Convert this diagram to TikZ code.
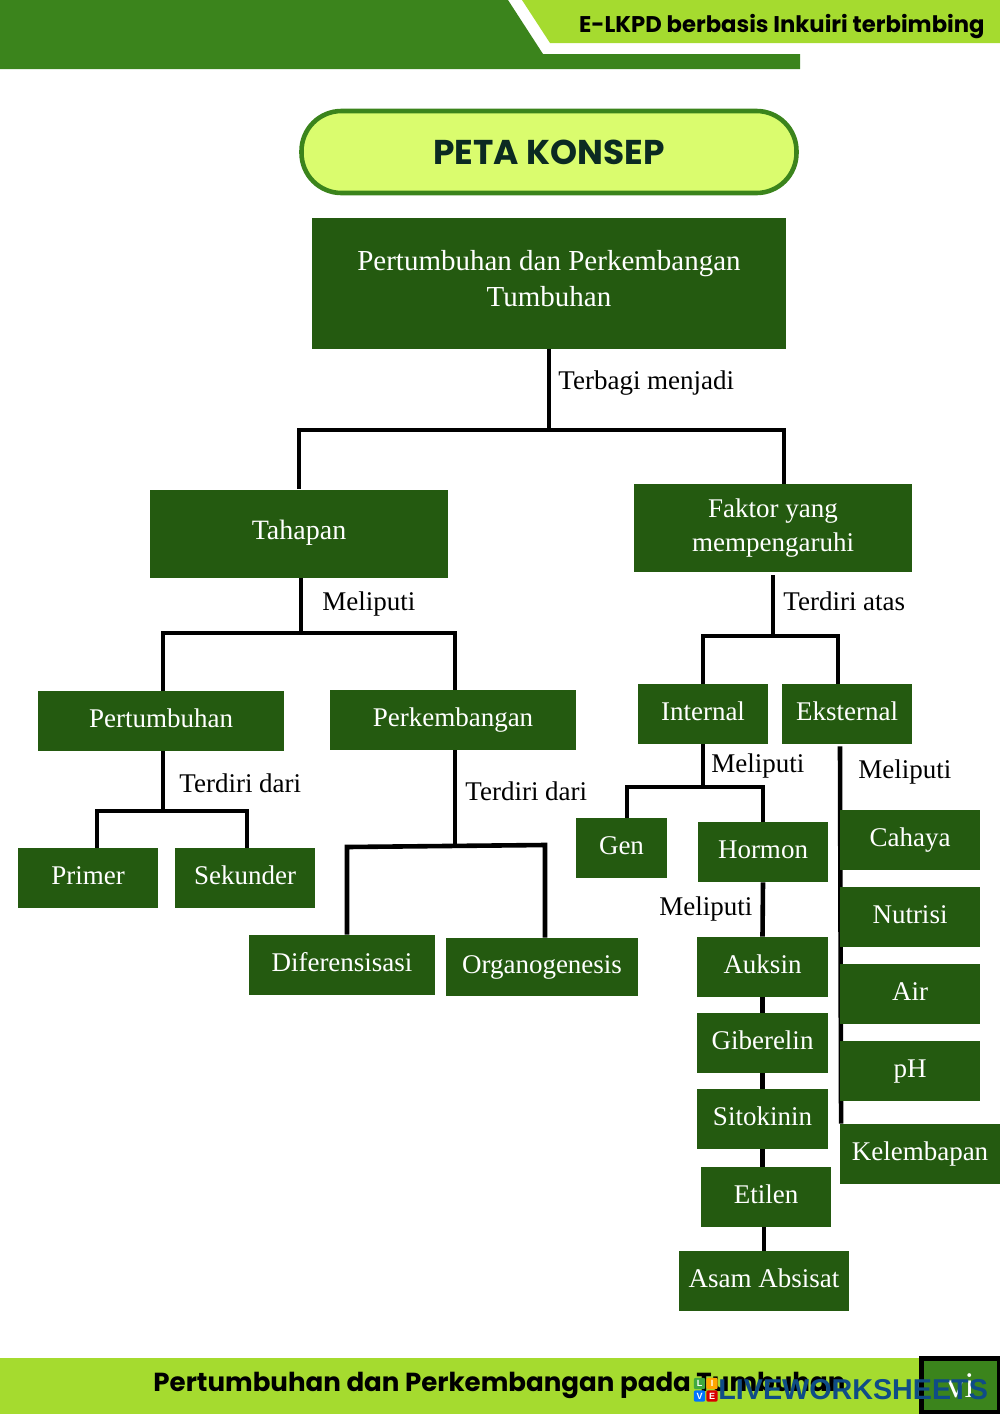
\documentclass[tikz,border=0pt]{standalone}
\usepackage{fontspec}
\setmainfont{Liberation Serif}
\newfontfamily\popfont{Poppins}
\newfontfamily\wmfont{Liberation Sans}
\definecolor{daun}{HTML}{245A10}
\definecolor{hijau}{HTML}{3B841C}
\definecolor{limau}{HTML}{A5DB2F}
\definecolor{pucuk}{HTML}{DAFC6E}
\definecolor{tinta}{HTML}{0B2A22}
\definecolor{biruwm}{HTML}{0F4C86}
\tikzset{
  kotak/.style={fill=daun, text=white, inner sep=0pt, align=center, font=\fontsize{13.5}{17.5}\selectfont},
  kotaksatu/.style={kotak, text height=9pt, text depth=3pt},
  ket/.style={anchor=base west, inner sep=0pt, font=\fontsize{13.5}{15}\selectfont},
  garis/.style={line width=2.3pt, black},
  logobox/.style={inner sep=0pt, minimum size=5.7pt, rounded corners=1pt, text=white, font=\wmfont\bfseries\fontsize{4.5}{5}\selectfont}
}
\begin{document}
\begin{tikzpicture}[x=0.5pt, y=-0.5pt]
  \useasboundingbox (0,0) rectangle (1000,1414);

  % Pita atas
  \fill[limau] (522,0) -- (1000,0) -- (1000,43) -- (550,43) -- cycle;
  \fill[hijau] (0,0) -- (508,0) -- (543,54) -- (800,54) -- (800,69) -- (0,69) -- cycle;
  \node[font=\popfont\bfseries\fontsize{11.35}{14}\selectfont, anchor=east, inner sep=0pt] (kepala) at (985,26.5) {E-LKPD berbasis Inkuiri terbimbing};

  % Judul
  \node[rectangle, rounded corners=20pt, draw=hijau, line width=2.3pt, fill=pucuk, minimum width=247.5pt, minimum height=41pt,
    font=\popfont\bfseries\fontsize{17.2}{20}\selectfont, text=tinta] (judul) at (549,152) {PETA KONSEP};

  % Kotak utama
  \node[kotak, minimum width=237pt, minimum height=65.5pt, font=\fontsize{14.5}{18}\selectfont] (utama) at (549,283)
    {Pertumbuhan dan Perkembangan\\Tumbuhan\rule[-5pt]{0pt}{5pt}};
  \node[kotaksatu, minimum width=149pt, minimum height=44pt, font=\fontsize{14}{17}\selectfont] (tahapan) at (299,533.5) {Tahapan};
  \node[kotak, minimum width=139pt, minimum height=44pt, font=\fontsize{13.5}{17}\selectfont] (faktor) at (773,528) {Faktor yang\\mempengaruhi};

  % Tahapan
  \node[kotaksatu, minimum width=123pt, minimum height=30pt] (tumbuh) at (161,721) {Pertumbuhan};
  \node[kotaksatu, minimum width=123pt, minimum height=30pt] (kembang) at (453,720) {Perkembangan};
  \node[kotaksatu, minimum width=70pt, minimum height=30pt] (primer) at (88,878) {Primer};
  \node[kotaksatu, minimum width=70pt, minimum height=30pt] (sekunder) at (245,878) {Sekunder};
  \node[kotaksatu, minimum width=93pt, minimum height=30pt] (diferensiasi) at (342,965) {Diferensisasi};
  \node[kotaksatu, minimum width=96pt, minimum height=29pt] (organo) at (542,967) {Organogenesis};

  % Faktor
  \node[kotaksatu, minimum width=65pt, minimum height=30pt] (internal) at (703,714) {Internal};
  \node[kotaksatu, minimum width=65pt, minimum height=30pt] (eksternal) at (847,714) {Eksternal};
  \node[kotaksatu, minimum width=45.5pt, minimum height=30pt] (gen) at (621.5,848) {Gen};
  \node[kotaksatu, minimum width=65pt, minimum height=30pt] (hormon) at (763,852) {Hormon};

  % Hormon
  \node[kotaksatu, minimum width=65.5pt, minimum height=30pt] (auksin) at (762.5,967) {Auksin};
  \node[kotaksatu, minimum width=65.5pt, minimum height=30pt] (giberelin) at (762.5,1043) {Giberelin};
  \node[kotaksatu, minimum width=65.5pt, minimum height=30pt] (sitokinin) at (762.5,1119) {Sitokinin};
  \node[kotaksatu, minimum width=65pt, minimum height=30pt] (etilen) at (766,1197) {Etilen};
  \node[kotaksatu, minimum width=85pt, minimum height=30pt] (asam) at (764,1281) {Asam Absisat};

  % Eksternal
  \node[kotaksatu, minimum width=80pt, minimum height=30pt] (lembap) at (920,1154) {Kelembapan};
  \draw[garis] ([xshift=-3.5pt,yshift=-1pt]eksternal.south) -- ([xshift=.75pt]lembap.north west);
  \node[kotaksatu, minimum width=70pt, minimum height=30pt] (cahaya) at (910,840) {Cahaya};
  \node[kotaksatu, minimum width=70pt, minimum height=30pt] (nutrisi) at (910,917) {Nutrisi};
  \node[kotaksatu, minimum width=70pt, minimum height=30pt] (air) at (910,994) {Air};
  \node[kotaksatu, minimum width=70pt, minimum height=30pt] (ph) at (910,1071) {pH};

  % Garis
  \coordinate (busA) at (549,430);
  \coordinate (busB) at (301,633);
  \coordinate (busC) at (773,636);
  \coordinate (busD) at (703,787);
  \coordinate (busE) at (163,811);
  \coordinate (busF) at (455,846);
  \coordinate (busFa) at (347,847);
  \coordinate (busFb) at (545,845);
  \draw[garis] (utama.south) -- (busA);
  \draw[garis] (tahapan.north) |- (busA) -| ([xshift=5.5pt]faktor.north);
  \draw[garis] ([xshift=1pt]tahapan.south) -- (busB);
  \draw[garis] ([xshift=1pt]tumbuh.north) |- (busB) -| ([xshift=1pt]kembang.north);
  \draw[garis] ([yshift=-1.5pt]faktor.south) -- (busC);
  \draw[garis] (internal.north) |- (busC) -| ([xshift=-4.5pt]eksternal.north);
  \draw[garis] (internal.south) -- (busD);
  \draw[garis] ([xshift=2.75pt]gen.north) |- (busD) -| (hormon.north);
  \draw[garis] ([xshift=1pt]tumbuh.south) -- (busE);
  \draw[garis] ([xshift=4.5pt]primer.north) |- (busE) -| ([xshift=1pt]sekunder.north);
  \draw[garis] ([xshift=1pt]kembang.south) -- (busF);
  \draw[garis] ([xshift=2.5pt]diferensiasi.north) -- (busFa) -- (busFb) -- ([xshift=1.5pt]organo.north);
  \draw[garis] (hormon.south) -- (auksin.north);
  \draw[garis] (auksin.south) -- (giberelin.north);
  \draw[garis] (giberelin.south) -- (sitokinin.north);
  \draw[garis] (sitokinin.south) -- (sitokinin.south |- etilen.north);
  \draw[garis] (asam.north |- etilen.south) -- (asam.north);

  % Keterangan
  \node[ket] (k1) at (558,389) {Terbagi menjadi};
  \node[ket] (k2) at (322,610) {Meliputi};
  \node[ket] (k3) at (783,610) {Terdiri atas};
  \node[ket] (k4) at (179,792) {Terdiri dari};
  \node[ket] (k5) at (465,800) {Terdiri dari};
  \node[ket] (k6) at (711,772) {Meliputi};
  \node[ket] (k7) at (858,778) {Meliputi};
  \node[ket] (k8) at (659,915) {Meliputi};

  % Pita bawah
  \fill[limau] (0,1358) rectangle (1000,1414);
  \node[font=\popfont\bfseries\fontsize{13.05}{15}\selectfont, anchor=west, inner sep=0pt] (kaki) at (153,1385) {Pertumbuhan dan Perkembangan pada Tumbuhan};
  \node[draw=black, line width=2.4pt, fill=hijau, minimum width=38.7pt, minimum height=27.2pt, inner sep=0pt, text=white,
    font=\fontsize{18}{20}\selectfont] (halaman) at (960.5,1385.5) {vi};

  % Tanda air
  \node[logobox, fill=green!55!black!75] (logoL) at (699.5,1383.5) {L};
  \node[logobox, fill=orange!70!yellow] (logoI) at (712,1383.5) {I};
  \node[logobox, fill=blue!55!cyan] (logoV) at (699.5,1396) {V};
  \node[logobox, fill=red!85!black] (logoE) at (712,1396) {E};
  \node[font=\wmfont\bfseries\fontsize{14.35}{16}\selectfont, text=biruwm, anchor=west, inner sep=0pt] (liveworksheets) at (718,1390) {LIVEWORKSHEETS};
\end{tikzpicture}
\end{document}
